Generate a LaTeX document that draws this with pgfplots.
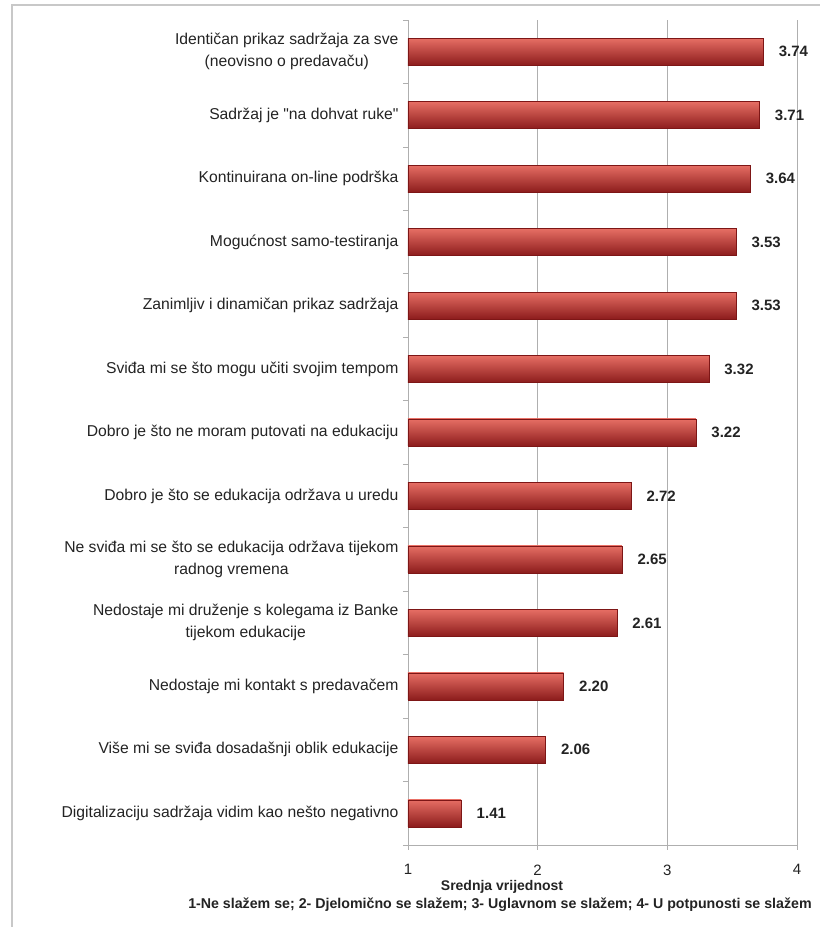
\documentclass[border=0pt]{standalone}
\usepackage{pgfplots}
\pgfplotsset{compat=1.18}
\usepackage{fontspec}
\setmainfont{Liberation Sans}
\definecolor{bartop}{RGB}{230,110,100}
\definecolor{barmid}{RGB}{205,50,45}
\definecolor{barbot}{RGB}{140,28,28}
\definecolor{baredge}{RGB}{125,22,22}
\definecolor{gridgray}{RGB}{175,175,175}
\definecolor{framegray}{RGB}{200,200,200}
\definecolor{txt}{RGB}{35,35,35}
\pgfplotsset{redbar/.style={draw=baredge, line width=0.5pt, top color=bartop, middle color=barmid, bottom color=barbot}}
\begin{document}
\begin{tikzpicture}[x=1pt,y=1pt]
\begin{axis}[
  name=ax,
  scale only axis, width=389pt, height=825pt,
  xmin=1, xmax=4, ymin=-0.5, ymax=12.5,
  axis lines*=left,
  axis line style={gridgray, line width=0.8pt},
  xmajorgrids, major grid style={gridgray, line width=0.8pt},
  xtick={1,2,3,4},
  /pgf/number format/assume math mode=true,
  tick align=outside, major tick length=5pt,
  tick style={gridgray, line width=0.8pt},
  xticklabel style={font=\fontsize{15}{15}\selectfont, text=txt, yshift=-11pt},
  ytick={-0.5,0.5,...,12.5}, yticklabels={},
  extra y ticks={0,1,2,3,4,5,6,7,8,9,10,11,12},
  extra y tick labels={
    {Digitalizaciju sadržaja vidim kao nešto negativno},
    {Više mi se sviđa dosadašnji oblik edukacije},
    {Nedostaje mi kontakt s predavačem},
    {Nedostaje mi druženje s kolegama iz Banke\\tijekom edukacije},
    {Ne sviđa mi se što se edukacija održava tijekom\\radnog vremena},
    {Dobro je što se edukacija održava u uredu},
    {Dobro je što ne moram putovati na edukaciju},
    {Sviđa mi se što mogu učiti svojim tempom},
    {Zanimljiv i dinamičan prikaz sadržaja},
    {Mogućnost samo-testiranja},
    {Kontinuirana on-line podrška},
    {Sadržaj je \textquotedbl na dohvat ruke\textquotedbl},
    {Identičan prikaz sadržaja za sve\\(neovisno o predavaču)}},
  extra y tick style={major tick length=0pt},
  yticklabel style={font=\fontsize{15.7}{22}\selectfont, text=txt, align=center, xshift=-6pt},
  xbar, bar width=27pt, bar shift=0pt,
  point meta=x,
  nodes near coords={\pgfmathprintnumber[fixed,fixed zerofill,precision=2,assume math mode=true]{\pgfplotspointmeta}},
  nodes near coords align={horizontal},
  every node near coord/.append style={font=\bfseries\fontsize{15}{15}\selectfont, text=txt, xshift=12pt},
]
\addplot[redbar] coordinates {(1.41,0)};
\addplot[redbar] coordinates {(2.06,1)};
\addplot[redbar] coordinates {(2.20,2)};
\addplot[redbar] coordinates {(2.61,3)};
\addplot[redbar] coordinates {(2.65,4)};
\addplot[redbar] coordinates {(2.72,5)};
\addplot[redbar] coordinates {(3.22,6)};
\addplot[redbar] coordinates {(3.32,7)};
\addplot[redbar] coordinates {(3.53,8)};
\addplot[redbar] coordinates {(3.53,9)};
\addplot[redbar] coordinates {(3.64,10)};
\addplot[redbar] coordinates {(3.71,11)};
\addplot[redbar] coordinates {(3.74,12)};
\end{axis}
\path[use as bounding box] ([shift={(-408,-82)}]ax.south west) rectangle ([shift={(412,845)}]ax.south west);
\draw[framegray, line width=2pt] ([shift={(-396,-82)}]ax.south west) -- ([shift={(-396,840)}]ax.south west) -- ([shift={(412,840)}]ax.south west);
\node[font=\bfseries\fontsize{14}{14}\selectfont, text=txt] at ([shift={(94,-42)}]ax.south west) {Srednja vrijednost};
\node[font=\bfseries\fontsize{14.2}{15}\selectfont, text=txt] at ([shift={(92,-60)}]ax.south west) {1-Ne slažem se; 2- Djelomično se slažem; 3- Uglavnom se slažem; 4- U potpunosti se slažem};
\end{tikzpicture}
\end{document}
